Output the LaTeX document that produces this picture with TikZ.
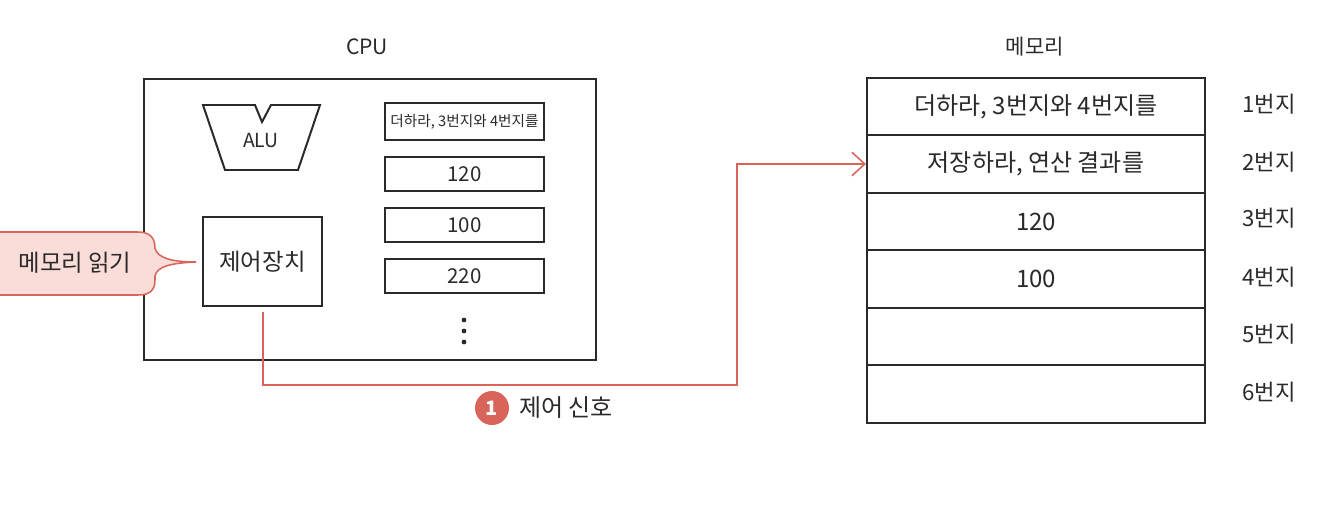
\documentclass[tikz,border=0pt]{standalone}
\usepackage{fontspec}
\setmainfont{Noto Sans CJK KR}
\usetikzlibrary{arrows.meta}
\definecolor{ink}{HTML}{2A2A2A}
\definecolor{sigred}{HTML}{D9645A}
\definecolor{pinkfill}{HTML}{FADDD8}
\tikzset{
  box/.style={draw=ink, line width=1.8pt, fill=white, inner sep=0pt},
  membox/.style={box, minimum width=10.14cm, minimum height=1.725cm, font=\fontsize{20.5}{23}\selectfont},
  regbox/.style={box, line width=1.6pt, minimum width=4.77cm, minimum height=1.02cm},
  lbl/.style={text=ink, inner sep=0pt},
  signal/.style={draw=sigred, line width=1.3pt},
}
\begin{document}
\begin{tikzpicture}[x=0.03cm, y=-0.03cm]
\useasboundingbox (0,0) rectangle (1326,504);
\clip (0,0) rectangle (1326,504);

% titles
\node[lbl, font=\fontsize{18}{20}\selectfont] (cputitle) at (367,47) {CPU};
\node[lbl, font=\fontsize{18}{20}\selectfont] (memtitle) at (1035,47) {메모리};

% CPU box
\node[box, line width=2.2pt, minimum width=13.56cm, minimum height=8.43cm] (cpu) at (370,219.5) {};

% ALU
\draw[draw=ink, line width=1.7pt, fill=white] (203,105) -- (255,105) -- (262,122) -- (271,105) -- (320,105) -- (298,170) -- (225,170) -- cycle;
\node[lbl, font=\fontsize{16.5}{18}\selectfont] (alu) at (261,141) {ALU};

% control unit
\node[box, minimum width=3.57cm, minimum height=2.67cm, font=\fontsize{20}{22}\selectfont, text=ink] (ctrl) at (262.5,261.5) {제어장치};

% registers
\node[regbox, minimum height=1.11cm, font=\fontsize{12.5}{14}\selectfont, text=ink] (r1) at (464.5,121.5) {더하라, 3번지와 4번지를};
\node[regbox, font=\fontsize{17.5}{19}\selectfont, text=ink] (r2) at (464.5,174) {120};
\node[regbox, font=\fontsize{17.5}{19}\selectfont, text=ink] (r3) at (464.5,225) {100};
\node[regbox, font=\fontsize{17.5}{19}\selectfont, text=ink] (r4) at (464.5,276) {220};
\fill[ink] (464,320) circle (2.4) (464,331) circle (2.4) (464,342) circle (2.4);

% callout
\draw[draw=sigred, line width=1.3pt, fill=pinkfill]
  (-20,232) -- (138,232) .. controls (150,232) and (155,238) .. (155,248)
  .. controls (157,258) and (172,262) .. (196,262)
  .. controls (172,263) and (157,266) .. (155,276)
  -- (155,280) .. controls (155,290) and (150,295) .. (138,295) -- (-20,295) -- cycle;
\node[lbl, font=\fontsize{20}{22}\selectfont] (readmem) at (75,263) {메모리 읽기};

% memory
\node[membox, text=ink] (m1) at (1036,106.5) {더하라, 3번지와 4번지를};
\node[membox, text=ink] (m2) at (1036,164) {저장하라, 연산 결과를};
\node[membox, text=ink] (m3) at (1036,221.5) {120};
\node[membox, text=ink] (m4) at (1036,279) {100};
\node[membox, text=ink] (m5) at (1036,336.5) {};
\node[membox, text=ink] (m6) at (1036,394) {};

\foreach \n/\y in {1/104,2/162,3/218,4/277,5/334,6/392}{
  \node[lbl, font=\fontsize{19}{21}\selectfont] (a\n) at (1269,\y) {{\n}번지};
}

% control signal
\coordinate (cs) at (263,312);
\draw[signal, -{Straight Barb[length=11pt, width=20pt, line width=1.3pt]}]
  (cs) -- (263,385) -- (737,385) -- (737,164) -- (m2.west);
\node[circle, fill=sigred, minimum size=1.02cm, inner sep=0pt, text=white, font=\bfseries\fontsize{17}{19}\selectfont] (one) at (492,408) {1};
\node[lbl, font=\fontsize{20.5}{22}\selectfont, anchor=west] (sig) at (519,408) {제어 신호};
\end{tikzpicture}
\end{document}
